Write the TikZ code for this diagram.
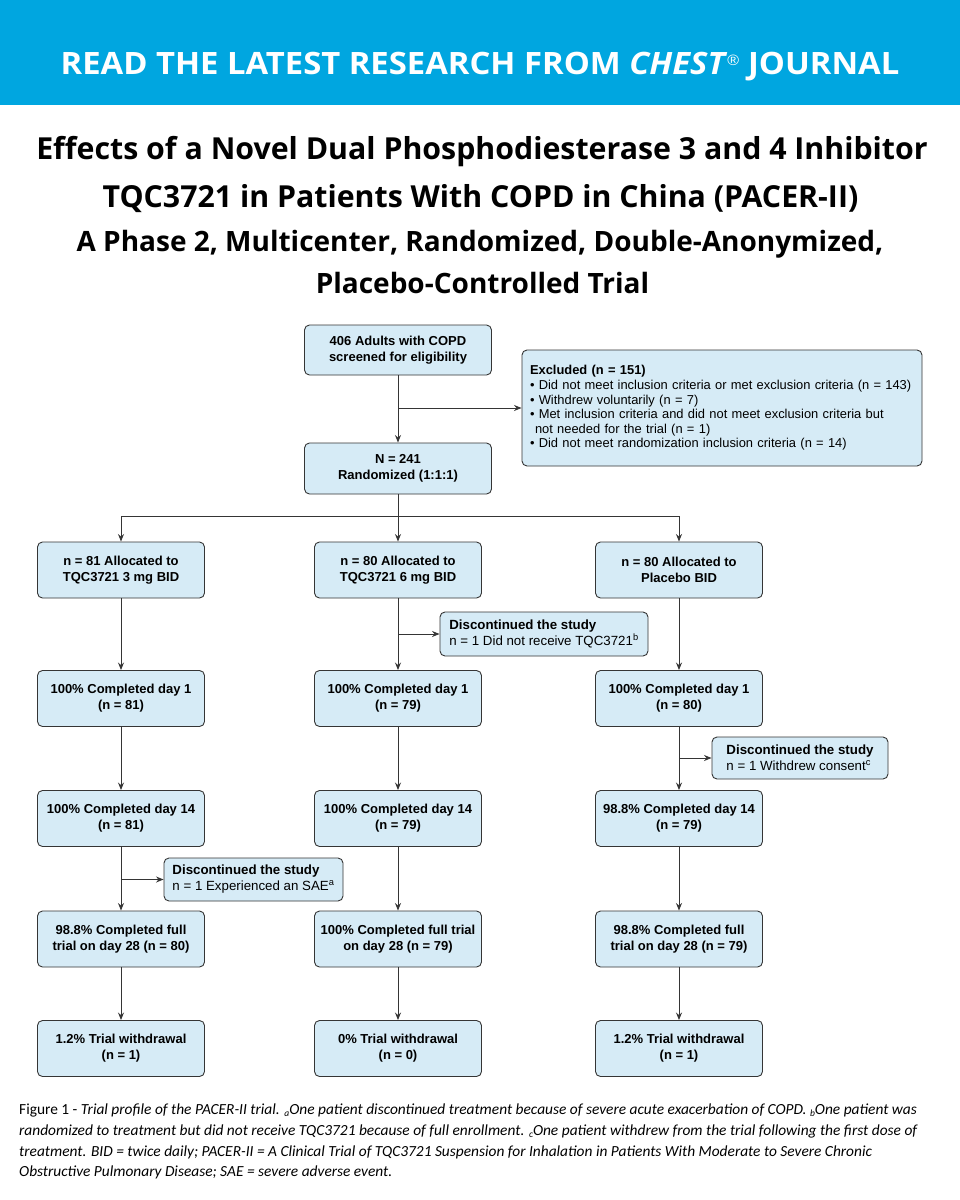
\documentclass[tikz,border=0pt]{standalone}
\usepackage{fontspec}
\setmainfont{Liberation Sans}
\newfontfamily\hdrfont{Open Sans}
\newfontfamily\boxfont{Liberation Sans}
\newfontfamily\notefont{Carlito}
\usetikzlibrary{arrows.meta}
\definecolor{hdrblue}{HTML}{00A6E0}
\definecolor{boxfill}{HTML}{D6EBF6}
\definecolor{boxline}{HTML}{353535}
\newcommand{\subm}[1]{\raisebox{-0.3ex}{\fontsize{9.5}{9.5}\selectfont #1}}
\tikzset{
  flowbox/.style={draw=boxline, fill=boxfill, line width=0.9pt, rounded corners=5pt,
    font=\boxfont\bfseries\fontsize{13}{16}\selectfont, align=center, inner sep=0pt},
  colbox/.style={flowbox, minimum width=167pt, minimum height=56pt},
  sidebox/.style={draw=boxline, fill=boxfill, line width=0.9pt, rounded corners=5pt,
    font=\boxfont\fontsize{13.3}{16}\selectfont, align=left, inner xsep=8pt, inner ysep=0pt},
  flow/.style={draw=boxline, line width=1pt},
  arr/.style={flow, -{Stealth[length=7.5pt,width=6pt]}},
  hdr/.style={font=\hdrfont\bfseries\fontsize{30.8}{34}\selectfont, text=white, inner sep=0pt, anchor=base},
  ttl/.style={font=\hdrfont\bfseries\fontsize{30.3}{34}\selectfont, text=black, inner sep=0pt, anchor=base},
  sttl/.style={font=\hdrfont\bfseries\fontsize{28}{32}\selectfont, text=black, inner sep=0pt, anchor=base},
  notestyle/.style={font=\notefont\fontsize{15.4}{20}\selectfont, inner sep=0pt, anchor=base west},
}
\begin{document}
\begin{tikzpicture}[x=1pt, y=-1pt]
\useasboundingbox (0,0) rectangle (960,1200);
\fill[white] (0,0) rectangle (960,1200);
\fill[hdrblue] (0,0) rectangle (960,105);
\node[hdr] (head) at (480,74.3) {\scalebox{1.065}[1]{READ THE LATEST RESEARCH FROM \textit{CHEST}\textsuperscript{\normalfont\fontsize{15}{15}\selectfont ®} JOURNAL}};
\node[ttl] (t1) at (482,159.5) {Effects of a Novel Dual Phosphodiesterase 3 and 4 Inhibitor};
\node[ttl] (t2) at (480.5,207) {TQC3721 in Patients With COPD in China (PACER-II)};
\node[sttl] (t3) at (480,251) {A Phase 2, Multicenter, Randomized, Double-Anonymized,};
\node[sttl] (t4) at (482.5,293.5) {Placebo-Controlled Trial};

\node[flowbox, minimum width=187pt, minimum height=50pt] (scr) at (398,350) {406 Adults with COPD\\screened for eligibility};
\node[sidebox, font=\boxfont\fontsize{12.9}{14.6}\selectfont, text width=384pt, minimum height=116pt] (excl) at (722,408) {\textbf{Excluded (n = 151)}\\
• Did not meet inclusion criteria or met exclusion criteria (n = 143)\\
• Withdrew voluntarily (n = 7)\\
• Met inclusion criteria and did not meet exclusion criteria but\\
\hspace*{5pt}not needed for the trial (n = 1)\\
• Did not meet randomization inclusion criteria (n = 14)};
\node[flowbox, minimum width=187pt, minimum height=51pt] (rand) at (398,468.5) {N = 241\\Randomized (1:1:1)};

\node[colbox] (a1) at (121,570) {n = 81 Allocated to\\TQC3721 3 mg BID};
\node[colbox] (a2) at (398,570) {n = 80 Allocated to\\TQC3721 6 mg BID};
\node[colbox] (a3) at (679,570) {n = 80 Allocated to\\Placebo BID};

\node[sidebox, minimum width=208pt, minimum height=44pt] (db) at (544,634) {\textbf{Discontinued the study}\\n = 1 Did not receive TQC3721\textsuperscript{b}};

\node[colbox] (b1) at (121,698.5) {100\% Completed day 1\\(n = 81)};
\node[colbox] (b2) at (398,698.5) {100\% Completed day 1\\(n = 79)};
\node[colbox] (b3) at (679,698.5) {100\% Completed day 1\\(n = 80)};

\node[sidebox, minimum width=176pt, minimum height=42pt] (dc) at (800,758) {\textbf{Discontinued the study}\\n = 1 Withdrew consent\textsuperscript{c}};

\node[colbox] (c1) at (121,818.5) {100\% Completed day 14\\(n = 81)};
\node[colbox] (c2) at (398,818.5) {100\% Completed day 14\\(n = 79)};
\node[colbox] (c3) at (679,818.5) {98.8\% Completed day 14\\(n = 79)};

\node[sidebox, minimum width=179pt, minimum height=43pt] (da) at (253.5,879.5) {\textbf{Discontinued the study}\\n = 1 Experienced an SAE\textsuperscript{a}};

\node[colbox] (d1) at (121,939) {98.8\% Completed full\\trial on day 28 (n = 80)};
\node[colbox] (d2) at (398,939) {100\% Completed full trial\\on day 28 (n = 79)};
\node[colbox] (d3) at (679,939) {98.8\% Completed full\\trial on day 28 (n = 79)};

\node[colbox] (e1) at (121,1048.5) {1.2\% Trial withdrawal\\(n = 1)};
\node[colbox] (e2) at (398,1048.5) {0\% Trial withdrawal\\(n = 0)};
\node[colbox] (e3) at (679,1048.5) {1.2\% Trial withdrawal\\(n = 1)};

% connectors
\draw[arr] (scr) -- (rand);
\coordinate (jx) at (398,408);
\draw[arr] (jx) -- (excl.west);
\coordinate (jr) at (398,516);
\draw[flow] (rand.south) -- (jr);
\draw[arr] (jr) -| (a1.north);
\draw[arr] (jr) -| (a3.north);
\draw[arr] (jr) -- (a2.north);
\foreach \c in {1,2,3}{
  \draw[arr] (a\c) -- (b\c);
  \draw[arr] (b\c) -- (c\c);
  \draw[arr] (c\c) -- (d\c);
  \draw[arr] (d\c) -- (e\c);
}
\coordinate (jb) at (a2.south |- db.west);
\draw[arr] (jb) -- (db.west);
\coordinate (jc) at (b3.south |- dc.west);
\draw[arr] (jc) -- (dc.west);
\coordinate (ja) at (c1.south |- da.west);
\draw[arr] (ja) -- (da.west);

\node[notestyle] (n1) at (19,1114) {Figure 1 - \textit{Trial profile of the PACER-II trial. \subm{a}One patient discontinued treatment because of severe acute exacerbation of COPD. \subm{b}One patient was}};
\node[notestyle] (n2) at (19,1135) {\textit{randomized to treatment but did not receive TQC3721 because of full enrollment. \subm{c}One patient withdrew from the trial following the first dose of}};
\node[notestyle] (n3) at (19,1156) {\textit{treatment. BID = twice daily; PACER-II = A Clinical Trial of TQC3721 Suspension for Inhalation in Patients With Moderate to Severe Chronic}};
\node[notestyle] (n4) at (19,1176.5) {\textit{Obstructive Pulmonary Disease; SAE = severe adverse event.}};
\end{tikzpicture}
\end{document}
